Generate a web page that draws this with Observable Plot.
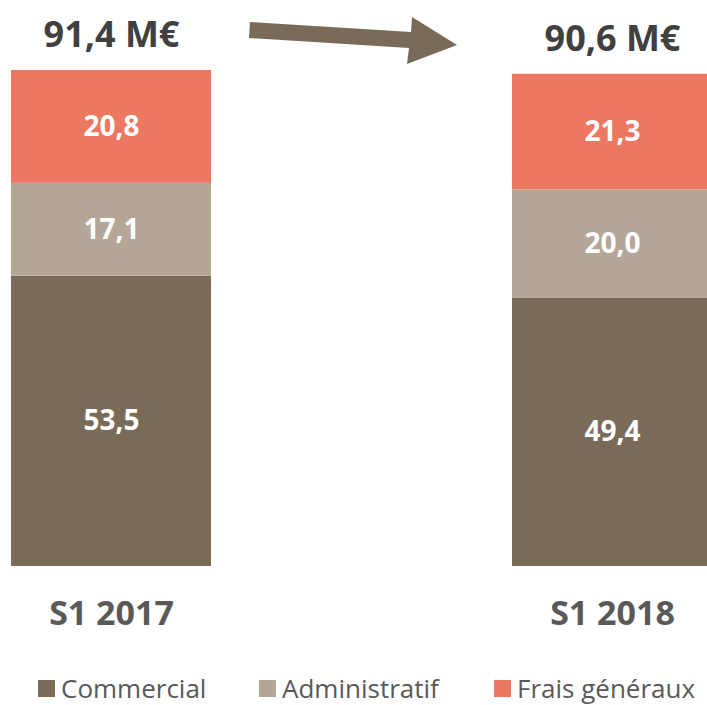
<!DOCTYPE html>
<html>
<head>
<meta charset="utf-8">
<script src="https://cdn.jsdelivr.net/npm/d3@7"></script>
<script src="https://cdn.jsdelivr.net/npm/@observablehq/plot@0.6"></script>
<style>
  html, body { margin: 0; padding: 0; background: #fff; overflow: hidden; width: 707px; height: 705px; }
  #chart { position: absolute; left: 0; top: 0; width: 707px; height: 650px; overflow: hidden; }
  #legend { position: absolute; left: 0; top: 673px; width: 707px; height: 30px; font-family: "Open Sans", sans-serif; font-size: 26px; line-height: 30px; color: #595959; }
  .item { position: absolute; top: 0; display: flex; align-items: center; height: 30px; white-space: nowrap; }
  .sw { width: 17px; height: 17px; margin-right: 6px; }
</style>
</head>
<body>
<div id="chart"></div>
<div id="legend"></div>
<script>
const periods = ["S1 2017", "S1 2018"];
const categories = ["Commercial", "Administratif", "Frais généraux"];
const commercial = [53.5, 49.4];
const administratif = [17.1, 20.0];
const fraisGeneraux = [20.8, 21.3];
const totals = [91.4, 90.6];
const totalLabels = ["91,4 M€", "90,6 M€"];
const colors = ["#7a6a58", "#b4a797", "#ed7862"];

const series = [commercial, administratif, fraisGeneraux];
const rows = [];
periods.forEach((p, i) => {
  categories.forEach((c, j) => {
    rows.push({ period: p, category: c, value: series[j][i] });
  });
});
const fmt = v => v.toFixed(1).replace(".", ",");
const totalRows = periods.map((p, i) => ({ period: p, total: totals[i], label: totalLabels[i] }));

// Decorative arrow between the two totals, anchored to the scales
function arrowMark(index, scales) {
  const x = scales.x, y = scales.y;
  const bw = x.bandwidth ? x.bandwidth() : 200;
  const x0 = x(periods[0]) + bw + 39;
  const tipX = x(periods[1]) - 55;
  const yTop = y(totals[0]);
  const yc0 = yTop - 40, tipY = yTop - 25;
  const headBase = tipX - 47;
  const pts = [
    [x0, yc0 - 8], [headBase + 1, yc0 + 2], [headBase + 2, yc0 - 13], [tipX, tipY],
    [headBase - 3, yc0 + 34], [headBase - 1, yc0 + 18], [x0 - 1, yc0 + 8]
  ];
  const ns = "http://www.w3.org/2000/svg";
  const path = document.createElementNS(ns, "path");
  path.setAttribute("d", "M" + pts.map(p => p.join(",")).join("L") + "Z");
  path.setAttribute("fill", colors[0]);
  return path;
}

const chart = Plot.plot({
  width: 707,
  height: 650,
  margin: 0,
  style: { fontFamily: "Open Sans, sans-serif", overflow: "visible" },
  x: { domain: periods, range: [11, 712.5], paddingInner: 0.601, paddingOuter: 0, axis: null },
  y: { domain: [0, 91.4], range: [566, 70], axis: null },
  color: { domain: categories, range: colors },
  marks: [
    Plot.barY(rows, { x: "period", y: "value", fill: "category", z: "category", order: categories }),
    Plot.text(rows, Plot.stackY({
      x: "period", y: "value", z: "category", order: categories,
      text: d => fmt(d.value), fill: "white", fontWeight: "bold", fontSize: 28
    })),
    Plot.text(totalRows, {
      x: "period", y: "total", text: "label", dy: -35,
      fill: "#404040", fontWeight: "bold", fontSize: 36
    }),
    Plot.text(totalRows, {
      x: "period", y: 0, text: "period", dy: 48,
      fill: "#595959", fontWeight: "bold", fontSize: 34
    }),
    arrowMark
  ]
});
document.getElementById("chart").appendChild(chart);

const lefts = [38, 259, 494];
const legend = document.getElementById("legend");
categories.forEach((c, i) => {
  const it = document.createElement("div");
  it.className = "item";
  it.style.left = lefts[i] + "px";
  const sw = document.createElement("span");
  sw.className = "sw";
  sw.style.background = colors[i];
  it.appendChild(sw);
  it.appendChild(document.createTextNode(c));
  legend.appendChild(it);
});
</script>
</body>
</html>
